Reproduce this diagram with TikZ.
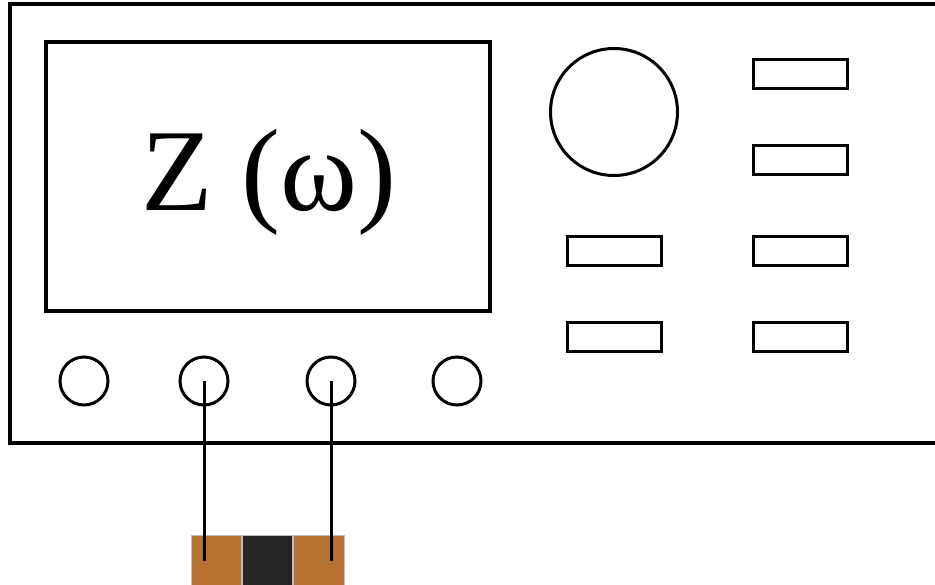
\documentclass[tikz,border=0pt]{standalone}
\usepackage{fontspec}
\setmainfont{Liberation Serif}
\definecolor{copper}{HTML}{B87333}
\definecolor{darkband}{HTML}{262626}
\begin{document}
\begin{tikzpicture}[x=1pt,y=-1pt,
  outline/.style={draw=black,line width=3.4pt},
  knob/.style={circle,draw=black,line width=3pt,minimum size=48pt,inner sep=0pt},
  button/.style={rectangle,draw=black,line width=3pt,minimum width=94pt,minimum height=29pt,inner sep=0pt},
  band/.style={draw=black!25,line width=0.8pt},
  lead/.style={draw=black,line width=3pt}]
\useasboundingbox (0,0) rectangle (935,585);
% housing
\draw[outline] (945,4) -- (10,4) -- (10,443) -- (945,443);
% screen
\draw[outline] (46,42) rectangle (490,311);
\node[font=\fontsize{117}{117}\selectfont,anchor=base,inner sep=0pt] (label) at (269,211) {Z (ω)};
% big dial
\node[circle,draw=black,line width=3pt,minimum size=127pt,inner sep=0pt] (dial) at (614,112) {};
% buttons
\node[button] (b1) at (800,74) {};
\node[button] (b2) at (800,160) {};
\node[button] (b3) at (800,251) {};
\node[button] (b4) at (800,337) {};
\node[button] (b5) at (614,251) {};
\node[button] (b6) at (614,337) {};
% knobs / terminals
\node[knob] (k1) at (84,381) {};
\node[knob] (k2) at (204,381) {};
\node[knob] (k3) at (331,381) {};
\node[knob] (k4) at (457,381) {};
% component
\fill[copper,band] (191,535) rectangle (241,585);
\fill[darkband,band] (242,535) rectangle (292,585);
\fill[copper,band] (293,535) rectangle (344,585);
\draw[band] (191,535) rectangle (241,585);
\draw[band] (242,535) rectangle (292,585);
\draw[band] (293,535) rectangle (344,585);
\coordinate (e1) at (204,561);
\coordinate (e2) at (331,561);
\draw[lead] (k2.center) -- (e1);
\draw[lead] (k3.center) -- (e2);
\end{tikzpicture}
\end{document}
